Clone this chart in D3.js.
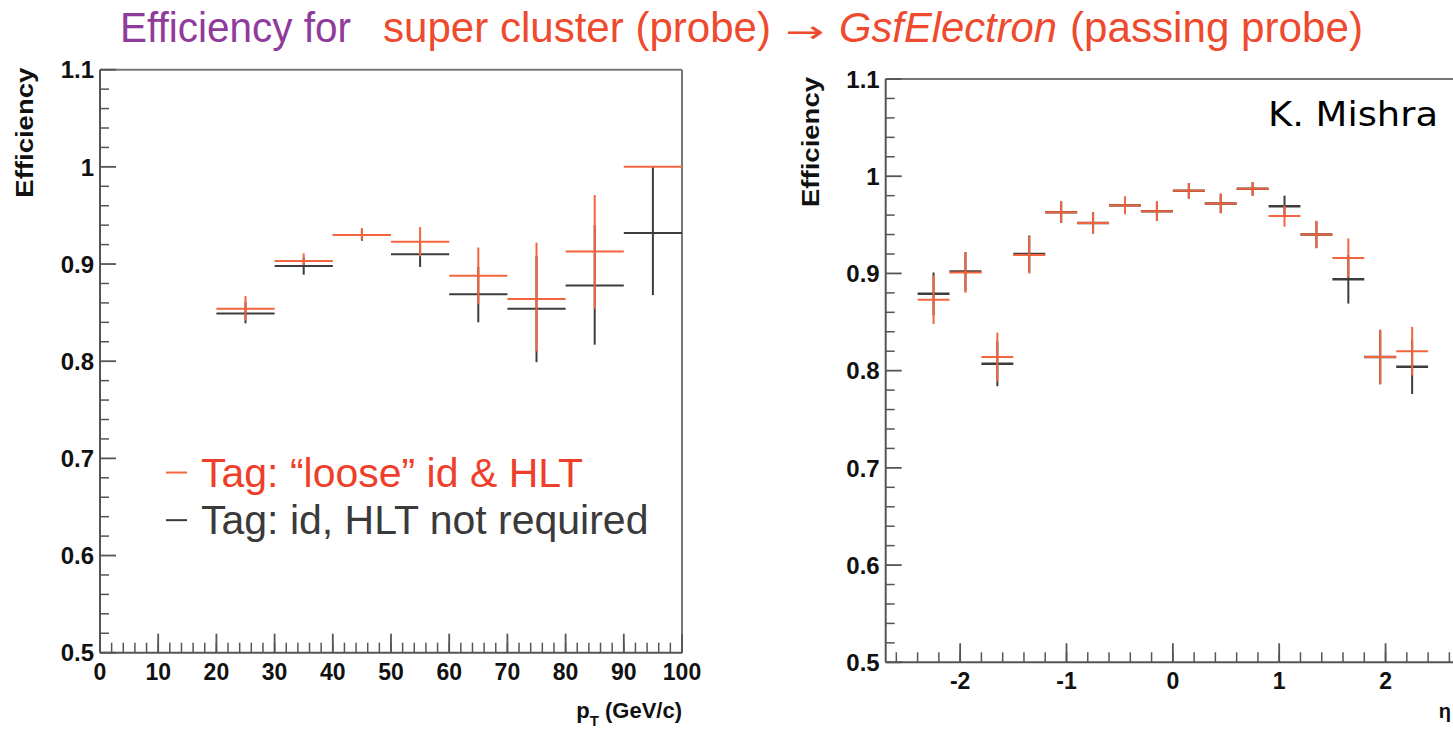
<!DOCTYPE html>
<html>
<head>
<meta charset="utf-8">
<script src="https://cdn.jsdelivr.net/npm/d3@7"></script>
<style>
  html, body { margin: 0; padding: 0; background: #fff; }
  svg { display: block; }
</style>
</head>
<body>
<svg id="chart" width="1453" height="735"></svg>
<script>
// ---------------- DATA ----------------
// Left panel: efficiency vs pT (bins of 10 GeV/c)
const ptBinLow  = [20, 30, 40, 50, 60, 70, 80, 90];
const ptBinHigh = [30, 40, 50, 60, 70, 80, 90, 100];
const ptRed        = [0.854, 0.903, 0.930, 0.923, 0.888, 0.864, 0.913, 1.000];
const ptRedErrUp   = [0.013, 0.008, 0.007, 0.015, 0.029, 0.058, 0.058, 0.000];
const ptRedErrDown = [0.012, 0.004, 0.005, 0.015, 0.029, 0.054, 0.059, 0.000];
const ptBlack        = [0.849, 0.898, 0.930, 0.910, 0.869, 0.854, 0.878, 0.932];
const ptBlackErrUp   = [0.012, 0.009, 0.006, 0.013, 0.028, 0.054, 0.062, 0.068];
const ptBlackErrDown = [0.010, 0.009, 0.006, 0.013, 0.029, 0.055, 0.061, 0.064];

// Right panel: efficiency vs eta (bins of 0.3)
const etaCenter = [-2.25, -1.95, -1.65, -1.35, -1.05, -0.75, -0.45, -0.15,
                    0.15,  0.45,  0.75,  1.05,  1.35,  1.65,  1.95,  2.25];
const etaHalfWidth = 0.15;
const etaRed      = [0.873, 0.901, 0.814, 0.919, 0.963, 0.952, 0.970, 0.964,
                     0.985, 0.972, 0.987, 0.959, 0.940, 0.916, 0.814, 0.820];
const etaRedErr   = [0.025, 0.021, 0.025, 0.019, 0.011, 0.011, 0.009, 0.010,
                     0.008, 0.010, 0.007, 0.011, 0.014, 0.020, 0.028, 0.025];
const etaBlack    = [0.879, 0.902, 0.807, 0.920, 0.963, 0.952, 0.970, 0.964,
                     0.985, 0.972, 0.987, 0.969, 0.940, 0.894, 0.814, 0.804];
const etaBlackErr = [0.022, 0.020, 0.023, 0.019, 0.011, 0.011, 0.009, 0.010,
                     0.008, 0.010, 0.007, 0.011, 0.014, 0.025, 0.028, 0.028];

// Tick labels
const yTicks      = [0.5, 0.6, 0.7, 0.8, 0.9, 1.0, 1.1];
const yTickLabels = ["0.5", "0.6", "0.7", "0.8", "0.9", "1", "1.1"];
const ptTicks     = [0, 10, 20, 30, 40, 50, 60, 70, 80, 90, 100];
const etaTicks    = [-2, -1, 0, 1, 2];

const legendLabels = ["Tag: \u201cloose\u201d id & HLT", "Tag: id, HLT not required"];

// ---------------- STYLE ----------------
const RED = "#f2653f";
const BLACK = "#3c3c3c";
const AXIS = "#555";
const TICKFONT = "'Liberation Sans', Arial, Helvetica, sans-serif";

const svg = d3.select("#chart");

function drawPanel(o) {
  const g = svg.append("g");
  const x = o.x, y = o.y;
  const [x0, x1] = x.range();
  const [y0, y1] = y.range(); // y0 bottom, y1 top

  // frame (top & right)
  g.append("line").attr("x1", x0).attr("x2", x1).attr("y1", y1).attr("y2", y1)
    .attr("stroke", "#777").attr("stroke-width", 2);
  g.append("line").attr("x1", x1).attr("x2", x1).attr("y1", y1).attr("y2", y0)
    .attr("stroke", "#777").attr("stroke-width", 2);

  // axes lines
  g.append("line").attr("x1", x0).attr("x2", x1).attr("y1", y0).attr("y2", y0)
    .attr("stroke", AXIS).attr("stroke-width", 2);
  g.append("line").attr("x1", x0).attr("x2", x0).attr("y1", y0).attr("y2", y1)
    .attr("stroke", AXIS).attr("stroke-width", 2);

  // y ticks
  const yMinor = d3.range(0.5, 1.1001, 0.02).filter(v => Math.abs(v * 10 - Math.round(v * 10)) > 1e-6);
  g.selectAll(".ymin").data(yMinor).enter().append("line")
    .attr("x1", x0).attr("x2", x0 + 9).attr("y1", d => y(d)).attr("y2", d => y(d))
    .attr("stroke", AXIS).attr("stroke-width", 1.5);
  g.selectAll(".ymaj").data(yTicks).enter().append("line")
    .attr("x1", x0).attr("x2", x0 + 16).attr("y1", d => y(d)).attr("y2", d => y(d))
    .attr("stroke", AXIS).attr("stroke-width", 1.8);
  g.selectAll(".ylab").data(yTicks).enter().append("text")
    .attr("x", x0 - 6).attr("y", d => y(d)).attr("dy", "0.36em")
    .attr("text-anchor", "end").attr("font-family", TICKFONT)
    .attr("font-weight", "bold").attr("font-size", 24).attr("fill", "#111")
    .text((d, i) => yTickLabels[i]);

  // x ticks
  const xd = x.domain();
  const xMinor = o.xMinor.filter(v => v >= xd[0] - 1e-9 && v <= xd[1] + 1e-9);
  g.selectAll(".xmin").data(xMinor).enter().append("line")
    .attr("x1", d => x(d)).attr("x2", d => x(d)).attr("y1", y0).attr("y2", y0 - 10)
    .attr("stroke", AXIS).attr("stroke-width", 1.5);
  g.selectAll(".xmaj").data(o.xTicks).enter().append("line")
    .attr("x1", d => x(d)).attr("x2", d => x(d)).attr("y1", y0).attr("y2", y0 - 19)
    .attr("stroke", AXIS).attr("stroke-width", 1.8);
  g.selectAll(".xlab").data(o.xTicks).enter().append("text")
    .attr("x", d => x(d)).attr("y", y0 + 27)
    .attr("text-anchor", "middle").attr("font-family", TICKFONT)
    .attr("font-weight", "bold").attr("font-size", 23).attr("fill", "#111")
    .text(d => d < 0 ? "-" + Math.abs(d) : String(d));

  // y title
  g.append("text")
    .attr("transform", `translate(${x0 - 67},${y1 - 2}) rotate(-90)`)
    .attr("text-anchor", "end").attr("font-family", TICKFONT)
    .attr("font-weight", "bold").attr("font-size", 23).attr("fill", "#111")
    .attr("textLength", 130).attr("lengthAdjust", "spacingAndGlyphs")
    .text("Efficiency");

  return g;
}

function drawErrors(g, x, y, lo, hi, center, val, errUp, errDown, color, hw, vw) {
  const idx = d3.range(val.length);
  g.selectAll(null).data(idx).enter().append("line")
    .attr("x1", i => x(lo[i])).attr("x2", i => x(hi[i]))
    .attr("y1", i => y(val[i])).attr("y2", i => y(val[i]))
    .attr("stroke", color).attr("stroke-width", hw);
  g.selectAll(null).data(idx.filter(i => errUp[i] + errDown[i] > 0)).enter().append("line")
    .attr("x1", i => x(center[i])).attr("x2", i => x(center[i]))
    .attr("y1", i => y(val[i] + errUp[i])).attr("y2", i => y(val[i] - errDown[i]))
    .attr("stroke", color).attr("stroke-width", vw);
}

// ---------------- LEFT PANEL ----------------
const xL = d3.scaleLinear().domain([0, 100]).range([100, 682]);
const yL = d3.scaleLinear().domain([0.5, 1.1]).range([652.7, 69.7]);
const gL = drawPanel({ x: xL, y: yL, xTicks: ptTicks, xMinor: d3.range(0, 101, 2) });
const ptCenter = ptBinLow.map((l, i) => (l + ptBinHigh[i]) / 2);
drawErrors(gL, xL, yL, ptBinLow, ptBinHigh, ptCenter, ptBlack, ptBlackErrUp, ptBlackErrDown, BLACK, 2, 2);
drawErrors(gL, xL, yL, ptBinLow, ptBinHigh, ptCenter, ptRed, ptRedErrUp, ptRedErrDown, RED, 2, 2);

// x title pT
const ptTitle = gL.append("text")
  .attr("x", xL.range()[1]).attr("y", 718)
  .attr("text-anchor", "end").attr("font-family", TICKFONT)
  .attr("font-weight", "bold").attr("font-size", 22).attr("fill", "#111");
ptTitle.append("tspan").text("p");
ptTitle.append("tspan").attr("font-size", 15).attr("dy", 8).text("T");
ptTitle.append("tspan").attr("dy", -8).text(" (GeV/c)");

// legend
const legColors = [RED, "#3a3a3a"];
const legY = [yL(0.671), yL(0.622)];
legendLabels.forEach((lab, i) => {
  gL.append("line")
    .attr("x1", 166).attr("x2", 187)
    .attr("y1", legY[i] - 14).attr("y2", legY[i] - 14)
    .attr("stroke", legColors[i]).attr("stroke-width", 2);
  gL.append("text")
    .attr("x", 201).attr("y", legY[i])
    .attr("font-family", TICKFONT).attr("font-size", 41)
    .attr("fill", i === 0 ? "#ee3f2a" : "#3a3a3a")
    .text(lab);
});

// ---------------- RIGHT PANEL ----------------
const xR = d3.scaleLinear().domain([-2.7, 2.7]).range([885.7, 1460]);
const yR = d3.scaleLinear().domain([0.5, 1.1]).range([662.3, 79]);
const gR = drawPanel({ x: xR, y: yR, xTicks: etaTicks, xMinor: d3.range(-2.6, 2.61, 0.2) });
const etaLo = etaCenter.map(c => c - etaHalfWidth);
const etaHi = etaCenter.map(c => c + etaHalfWidth);
drawErrors(gR, xR, yR, etaLo, etaHi, etaCenter, etaBlack, etaBlackErr, etaBlackErr, BLACK, 2.5, 2);
drawErrors(gR, xR, yR, etaLo, etaHi, etaCenter, etaRed, etaRedErr, etaRedErr, RED, 2, 2);

gR.append("text")
  .attr("x", 1451).attr("y", 718)
  .attr("text-anchor", "end").attr("font-family", TICKFONT)
  .attr("font-weight", "bold").attr("font-size", 20).attr("fill", "#111")
  .text("\u03b7");

// annotation
svg.append("text")
  .attr("x", 1268).attr("y", 125.7)
  .attr("font-family", "'DejaVu Sans', Verdana, sans-serif")
  .attr("font-size", 34).attr("fill", "#000")
  .attr("textLength", 170).attr("lengthAdjust", "spacingAndGlyphs")
  .text("K. Mishra");

// ---------------- TITLE ----------------
const TITLEFONT = "'Liberation Sans', Arial, Helvetica, sans-serif";
const titleParts = [
  { t: "Efficiency for", x0: 120, x1: 351, c: "#8f3b9b", it: false },
  { t: "super cluster (probe)", x0: 383, x1: 771, c: "#ee4a2e", it: false },
  { t: "\u2192", x0: 785, x1: 824, c: "#ee4a2e", it: false },
  { t: "GsfElectron", x0: 839, x1: 1057, c: "#ee4a2e", it: true },
  { t: "(passing probe)", x0: 1070, x1: 1363, c: "#ee4a2e", it: false }
];
titleParts.forEach(p => {
  svg.append("text")
    .attr("x", p.x0).attr("y", 42)
    .attr("font-family", p.t === "\u2192" ? "'DejaVu Sans', sans-serif" : TITLEFONT)
    .attr("font-size", p.t === "\u2192" ? 30 : 42)
    .attr("font-style", p.it ? "italic" : "normal")
    .attr("fill", p.c)
    .attr("textLength", p.x1 - p.x0).attr("lengthAdjust", "spacingAndGlyphs")
    .text(p.t);
});
</script>
</body>
</html>
